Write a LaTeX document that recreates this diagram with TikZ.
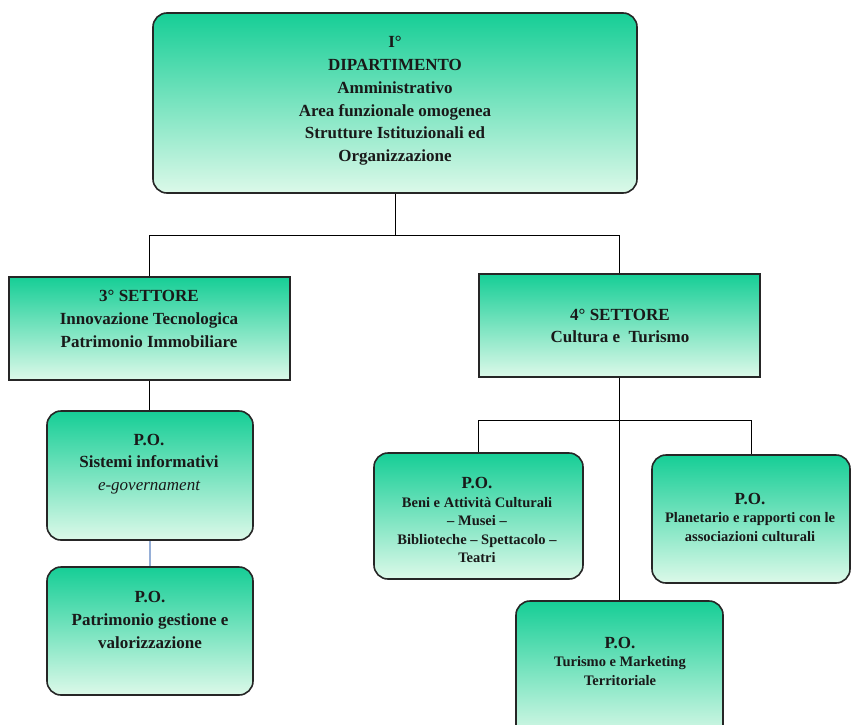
\documentclass[tikz,border=0pt]{standalone}
\usepackage{fontspec}
\setmainfont{Liberation Serif}
\begin{document}
\begin{tikzpicture}[x=1pt,y=-1pt]
\definecolor{gtop}{RGB}{22,206,150}
\definecolor{gbot}{RGB}{220,249,233}
\definecolor{bluelink}{RGB}{150,175,215}
\tikzset{
 box/.style={draw=black!85, line width=1.6pt, top color=gtop, bottom color=gbot, inner sep=0pt},
 rbox/.style={box, rounded corners=14pt},
 sbox/.style={box},
 big/.style={font=\fontsize{17}{22.8}\selectfont\bfseries, align=center, text=black!90},
 small/.style={font=\fontsize{14.5}{18.5}\selectfont\bfseries, align=center, text=black!90},
 conn/.style={draw=black, line width=0.8pt},
 thickconn/.style={draw=black, line width=1.8pt},
 blueconn/.style={draw=bluelink, line width=1.4pt},
}
\useasboundingbox (0,0) rectangle (851,725);
\clip (0,0) rectangle (851,725);
\fill[white] (0,0) rectangle (851,725);

% boxes
\node[rbox, minimum width=484pt, minimum height=180pt] (dip) at (395,103) {};
\node[sbox, minimum width=281pt, minimum height=103pt] (s3) at (149.5,328.5) {};
\node[sbox, minimum width=281pt, minimum height=103pt] (s4) at (619.5,325.5) {};
\node[rbox, minimum width=206pt, minimum height=129pt] (sis) at (150,475.5) {};
\node[rbox, minimum width=206pt, minimum height=128pt] (pat) at (150,631) {};
\node[rbox, minimum width=209pt, minimum height=126pt] (beni) at (478.5,516) {};
\node[rbox, minimum width=198pt, minimum height=128pt] (plan) at (751,519) {};
\node[rbox, minimum width=207pt, minimum height=139pt] (tur) at (619.5,670.5) {};

% connectors
\coordinate (hA) at (0,235);
\coordinate (hB) at (0,420);
\draw[conn] (dip.south) -- (dip.south |- hA);
\draw[conn] (s3.north) -- (s3.north |- hA) -| (s4.north);
\draw[thickconn] (s3.south) -- (s3.south |- sis.north);
\draw[blueconn] (sis.south) -- (pat.north);
\draw[conn] (s4.south) -- (s4.south |- tur.north);
\draw[conn] (beni.north) -- (beni.north |- hB) -| (plan.north);

% texts
\node[big] (tdip) at (395,101) {I°\\DIPARTIMENTO\\Amministrativo\\Area funzionale omogenea\\Strutture Istituzionali ed\\Organizzazione};
\node[big] (ts3) at (149,319) {3° SETTORE\\Innovazione Tecnologica\\Patrimonio Immobiliare};
\node[big] (ts4) at (620,326) {4° SETTORE\\Cultura e\ \ Turismo};
\node[big] (tsis) at (149,464) {P.O.\\Sistemi informativi\\{\mdseries\itshape e-governament}};
\node[big] (tpat) at (150,620) {P.O.\\Patrimonio gestione e\\valorizzazione};
\node[small] (tbeni) at (477,520) {{\fontsize{17}{20}\selectfont P.O.}\\Beni e Attività Culturali\\– Musei –\\Biblioteche – Spettacolo –\\Teatri};
\node[small] (tplan) at (750,517) {{\fontsize{17}{20}\selectfont P.O.}\\Planetario e rapporti con le\\associazioni culturali};
\node[small] (ttur) at (620,661) {{\fontsize{17}{20}\selectfont P.O.}\\Turismo e Marketing\\Territoriale};
\end{tikzpicture}
\end{document}
